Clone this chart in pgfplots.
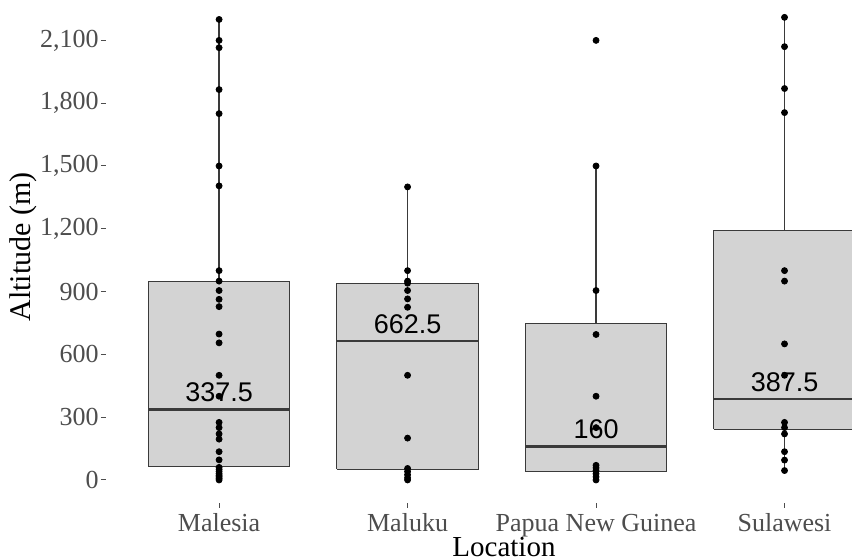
\documentclass[border=0pt]{standalone}
\usepackage{pgfplots}
\pgfplotsset{compat=1.18}
\usepackage{fontspec}
\setmainfont{Liberation Serif}
\newfontfamily\arialfont{Liberation Sans}
\definecolor{boxfill}{HTML}{D3D3D3}
\definecolor{boxline}{HTML}{3A3A3A}
\definecolor{ticklab}{HTML}{4D4D4D}
\begin{document}
\begin{tikzpicture}
\begin{axis}[
  at={(53pt,28.5pt)}, anchor=south west,
  scale only axis, width=373pt, height=251.5pt,
  xmin=0.4, xmax=4.358, ymin=-110, ymax=2293,
  axis x line*=bottom, axis y line*=left,
  axis line style={draw=none},
  tick align=outside, major tick length=2.5pt,
  tick style={draw=ticklab, line width=0.5pt},
  xtick={1,2,3,4},
  xticklabels={Malesia, Maluku, Papua New Guinea, Sulawesi},
  ytick={0,300,...,2100},
  yticklabel style={/pgf/number format/1000 sep={,}, /pgf/number format/assume math mode=true},
  tick label style={font=\fontsize{13}{15}\selectfont, text=ticklab},
  xticklabel style={anchor=base, inner sep=0pt, yshift=-11.8pt},
  yticklabel style={anchor=east, inner sep=0pt, xshift=-1pt},
  xlabel={Location},
  ylabel={Altitude (m)},
  xlabel style={at={(rel axis cs:0.5335,-0.1064)}, anchor=base, inner sep=0pt, font=\fontsize{14.5}{16}\selectfont},
  ylabel style={at={(rel axis cs:-0.1113,0.509)}, anchor=center, inner sep=0pt, font=\fontsize{15}{17}\selectfont},
]
% Whiskers
\addplot[draw=boxline, line width=0.6pt] coordinates {(1,0) (1,2200)};
\addplot[draw=boxline, line width=0.6pt] coordinates {(2,0) (2,1400)};
\addplot[draw=boxline, line width=0.6pt] coordinates {(3,0) (3,1500)};
\addplot[draw=boxline, line width=0.6pt] coordinates {(4,45) (4,2200)};
% Boxes (Q1 to Q3)
\addplot[fill=boxfill, draw=boxline, line width=0.6pt] coordinates {(0.625,65) (1.375,65) (1.375,950) (0.625,950) (0.625,65)};
\addplot[fill=boxfill, draw=boxline, line width=0.6pt] coordinates {(1.625,50) (2.375,50) (2.375,940) (1.625,940) (1.625,50)};
\addplot[fill=boxfill, draw=boxline, line width=0.6pt] coordinates {(2.625,42) (3.375,42) (3.375,747) (2.625,747) (2.625,42)};
\addplot[fill=boxfill, draw=boxline, line width=0.6pt] coordinates {(3.625,242) (4.375,242) (4.375,1190) (3.625,1190) (3.625,242)};
% Medians
\addplot[draw=boxline, line width=1.2pt] coordinates {(0.625,337.5) (1.375,337.5)};
\addplot[draw=boxline, line width=1.2pt] coordinates {(1.625,662.5) (2.375,662.5)};
\addplot[draw=boxline, line width=1.2pt] coordinates {(2.625,160) (3.375,160)};
\addplot[draw=boxline, line width=1.2pt] coordinates {(3.625,387.5) (4.375,387.5)};
% Points
\addplot[only marks, mark=*, mark size=1.5pt, black] coordinates {
(1,2200) (1,2100) (1,2065) (1,1865) (1,1750) (1,1500) (1,1405) (1,1000)
(1,950) (1,905) (1,863) (1,828) (1,697) (1,655) (1,500) (1,400)
(1,275) (1,250) (1,220) (1,195) (1,135) (1,96) (1,60) (1,50)
(1,40) (1,30) (1,22) (1,15) (1,8) (1,0)
(2,1400) (2,1000) (2,950) (2,940) (2,905) (2,865) (2,825) (2,500)
(2,200) (2,55) (2,40) (2,25) (2,10) (2,0)
(3,2100) (3,1500) (3,905) (3,695) (3,400) (3,250) (3,70) (3,58)
(3,45) (3,30) (3,15) (3,0)
(4,2210) (4,2070) (4,1870) (4,1755) (4,1000) (4,950) (4,650) (4,500)
(4,275) (4,250) (4,220) (4,135) (4,95) (4,45)
};
% Median labels
\node[font=\arialfont\fontsize{13.5}{15}\selectfont, anchor=base, inner sep=0pt, yshift=3.8pt] at (axis cs:1,337.5) {337.5};
\node[font=\arialfont\fontsize{13.5}{15}\selectfont, anchor=base, inner sep=0pt, yshift=3.8pt] at (axis cs:2,662.5) {662.5};
\node[font=\arialfont\fontsize{13.5}{15}\selectfont, anchor=base, inner sep=0pt, yshift=3.8pt] at (axis cs:3,160) {160};
\node[font=\arialfont\fontsize{13.5}{15}\selectfont, anchor=base, inner sep=0pt, yshift=3.8pt] at (axis cs:4,387.5) {387.5};
\end{axis}
\pgfresetboundingbox
\useasboundingbox (0,0) rectangle (426pt,280pt);
\end{tikzpicture}
\end{document}
